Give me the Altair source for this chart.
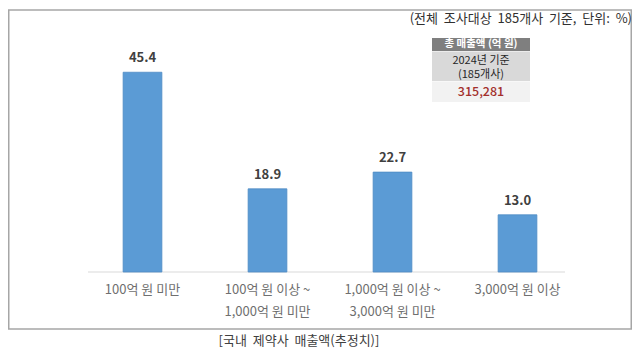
import altair as alt
import pandas as pd

# ---- data ----
cat_line1 = ["100억 원 미만", "100억 원 이상 ~", "1,000억 원 이상 ~", "3,000억 원 이상"]
cat_line2 = ["", "1,000억 원 미만", "3,000억 원 미만", ""]
shares = [45.4, 18.9, 22.7, 13.0]

NB = "\u00a0"
note_text = f"(전체{NB}{NB}조사대상{NB}{NB}185개사{NB}{NB}기준,{NB}{NB}단위:{NB}{NB}%)"
box_header = "총 매출액 (억 원)"
box_lines = ["2024년 기준", "(185개사)"]
box_value = "315,281"
caption = f"[국내{NB}{NB}제약사{NB}{NB}매출액(추정치)]"

categories = [a + ("\n" + b if b else "") for a, b in zip(cat_line1, cat_line2)]
df = pd.DataFrame({"cat": categories, "share": shares,
                   "label": [f"{v:.1f}" for v in shares]})

FONT = "Noto Sans CJK KR"
W, H = 624, 344

x_enc = alt.X("cat:N", sort=categories, axis=None,
              scale=alt.Scale(domain=categories, range=[72, 572],
                              paddingInner=0.69, paddingOuter=0.345))
y_scale = alt.Scale(domain=[0, 50], range=[264, 44], zero=True, nice=False)

base = alt.Chart(df)

bars = base.mark_bar(color="#5b9bd5", stroke="#4f8cc4", strokeWidth=0.8).encode(
    x=x_enc,
    y=alt.Y("share:Q", scale=y_scale, axis=None),
)

values = base.mark_text(font=FONT, fontSize=13, fontWeight="bold", color="#404040",
                        baseline="middle", dy=-14).encode(
    x=x_enc,
    y=alt.Y("share:Q", scale=y_scale, axis=None),
    text="label:N",
)

cat_labels = base.mark_text(font=FONT, fontSize=13, color="#6f6f6f", baseline="middle",
                            lineBreak="\n", lineHeight=22).encode(
    x=x_enc,
    y=alt.value(282),
    text="cat:N",
)

one = alt.Chart(pd.DataFrame({"k": [0]}))

baseline = one.mark_rule(color="#d9d9d9", strokeWidth=1).encode(
    x=alt.value(80), x2=alt.value(557), y=alt.value(264))

frame = one.mark_rect(fill=None, stroke="#a6a6a6", strokeWidth=1.5).encode(
    x=alt.value(0.75), x2=alt.value(623.25), y=alt.value(2), y2=alt.value(321))

note = one.mark_text(font=FONT, fontSize=13, color="#303030", align="right",
                     baseline="middle").encode(
    x=alt.value(624), y=alt.value(10.5), text=alt.value(note_text))

hdr_rect = one.mark_rect(fill="#7f7f7f").encode(
    x=alt.value(424), x2=alt.value(522), y=alt.value(30), y2=alt.value(43))
gray_rect = one.mark_rect(fill="#d9d9d9").encode(
    x=alt.value(424), x2=alt.value(522), y=alt.value(43.5), y2=alt.value(73))
light_rect = one.mark_rect(fill="#f2f2f2").encode(
    x=alt.value(424), x2=alt.value(522), y=alt.value(73.5), y2=alt.value(94))

hdr_text = one.mark_text(font=FONT, fontSize=10.5, fontWeight="bold", color="white",
                         baseline="middle").encode(
    x=alt.value(473), y=alt.value(36), text=alt.value(box_header))

lines_df = pd.DataFrame({"t": box_lines, "yy": [52.5, 67.0]})
line_text = alt.Chart(lines_df).mark_text(font=FONT, fontSize=11, color="#262626",
                                          baseline="middle").encode(
    x=alt.value(473), y=alt.Y("yy:Q", scale=None), text="t:N")

val_text = one.mark_text(font=FONT, fontSize=12.5, fontWeight=500, color="#a3302c",
                         baseline="middle").encode(
    x=alt.value(473), y=alt.value(84), text=alt.value(box_value))

cap = one.mark_text(font=FONT, fontSize=13, color="#404040", baseline="middle").encode(
    x=alt.value(291), y=alt.value(333), text=alt.value(caption))

chart = alt.layer(
    frame, baseline, bars, values, cat_labels, note,
    hdr_rect, gray_rect, light_rect, hdr_text, line_text, val_text, cap,
).properties(
    width=W, height=H, padding=0,
    autosize=alt.AutoSizeParams(type="none"),
    background="white",
).configure_view(stroke=None)

chart.save("out.html", embed_options={"renderer": "svg", "actions": False})
